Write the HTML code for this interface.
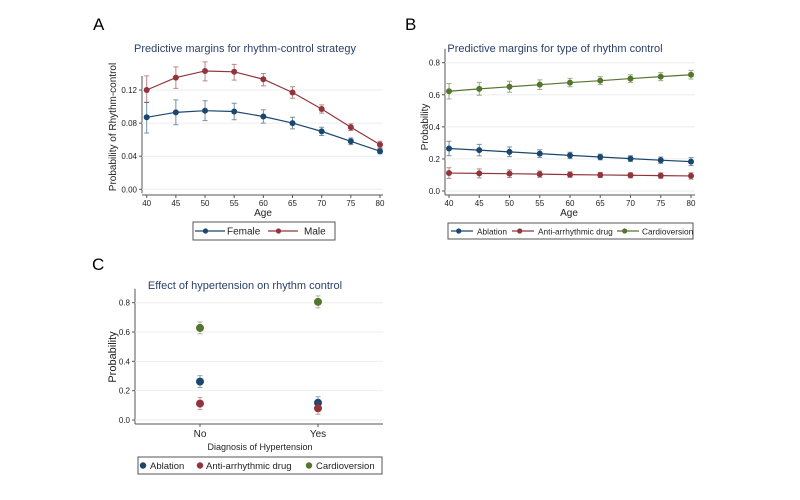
<!DOCTYPE html>
<html><head><meta charset="utf-8"><style>
body{margin:0;background:#fff;}
svg{display:block;font-family:"Liberation Sans",sans-serif;}
</style></head><body>
<svg id="s" width="800" height="500" viewBox="0 0 800 500">
<text x="93" y="30" font-size="17" fill="#000">A</text>
<text x="405" y="30" font-size="17" fill="#000">B</text>
<text x="92" y="270" font-size="17" fill="#000">C</text>
</svg>
<script>
const ages=[40,45,50,55,60,65,70,75,80];
const femaleVals=[0.087,0.093,0.095,0.094,0.088,0.080,0.070,0.058,0.046];
const femaleLo=[0.068,0.078,0.083,0.084,0.080,0.073,0.065,0.054,0.043];
const femaleHi=[0.105,0.108,0.107,0.104,0.096,0.087,0.075,0.062,0.049];
const maleVals=[0.120,0.135,0.143,0.142,0.133,0.117,0.097,0.075,0.054];
const maleLo=[0.105,0.122,0.131,0.132,0.125,0.110,0.092,0.071,0.050];
const maleHi=[0.137,0.148,0.154,0.151,0.140,0.124,0.102,0.079,0.058];
const aTicks=[0,0.04,0.08,0.12];
const aTickLabels=["0.00","0.04","0.08","0.12"];
const cardioVals=[0.622,0.637,0.650,0.663,0.676,0.688,0.701,0.713,0.725];
const cardioErr=[0.048,0.040,0.034,0.030,0.026,0.025,0.024,0.025,0.027];
const ablVals=[0.265,0.255,0.244,0.233,0.222,0.212,0.202,0.192,0.183];
const ablErr=[0.045,0.036,0.030,0.024,0.020,0.018,0.018,0.020,0.025];
const aadVals=[0.112,0.110,0.108,0.105,0.102,0.100,0.098,0.096,0.094];
const aadErr=[0.033,0.028,0.024,0.020,0.017,0.016,0.016,0.017,0.020];
const bTicks=[0,0.2,0.4,0.6,0.8];
const bTickLabels=["0.0","0.2","0.4","0.6","0.8"];
const htnCats=["No","Yes"];
const htnAbl=[0.262,0.118];
const htnAad=[0.112,0.080];
const htnCardio=[0.628,0.806];
const BLUE="#1a476f",RED="#90353b",GREEN="#55752f",NAVY="#2a3f6a";
const S=document.getElementById('s');
function el(tag,attrs,parent){const e=document.createElementNS('http://www.w3.org/2000/svg',tag);for(const k in attrs)e.setAttribute(k,attrs[k]);(parent||S).appendChild(e);return e;}
function txt(x,y,s,size,attrs){const t=el('text',Object.assign({x:x,y:y,'font-size':size,fill:'#222'},attrs||{}));t.textContent=s;return t;}
function lin(d0,d1,r0,r1){return v=>r0+(v-d0)/(d1-d0)*(r1-r0);}

function axesY(g,ys,ticks,labels,x0,x1,lab){
  const ax=el('line',{x1:x0,x2:x0,y1:ys(ticks[ticks.length-1])-14,y2:ys(ticks[0])+4,stroke:'#555'},g);
  
  ticks.forEach((t,i)=>{
    const gl=el('line',{x1:x0,x2:x1,y1:ys(t),y2:ys(t),stroke:'#eee'},g);
    
    el('line',{x1:x0-3,x2:x0,y1:ys(t),y2:ys(t),stroke:'#555'},g);
    const tl=txt(x0-5,ys(t)+3,labels[i],8,{'text-anchor':'end'});
    
  });
}
function series(g,xs,ys,xv,vals,lo,hi,color,name){
  const pts=xv.map((x,i)=>xs(x)+','+ys(vals[i])).join(' ');
  const pl=el('polyline',{points:pts,fill:'none',stroke:color,'stroke-width':1.2},g);
  
  xv.forEach((x,i)=>{
    const X=xs(x);
    const eb=el('path',{d:`M${X},${ys(lo[i])}V${ys(hi[i])}M${X-2.5},${ys(lo[i])}H${X+2.5}M${X-2.5},${ys(hi[i])}H${X+2.5}`,stroke:color,'stroke-opacity':0.6,fill:'none'},g);
    
    const c=el('circle',{cx:X,cy:ys(vals[i]),r:3,fill:color},g);
    
  });
}
function legend(g,x0,y0,x1,y1,items,lineStyle,lab,len,fs){
  const r=el('rect',{x:x0,y:y0,width:x1-x0,height:y1-y0,fill:'#fff',stroke:'#555'},g);
  
  items.forEach(it=>{
    const cy=(y0+y1)/2;
    const eg=el('g',{},g);
    
    
    if(lineStyle){el('line',{x1:it.x,x2:it.x+len,y1:cy,y2:cy,stroke:it.c,'stroke-width':1.2},eg);el('circle',{cx:it.x+len*0.35,cy:cy,r:2.6,fill:it.c},eg);
      const t=txt(it.t,cy+3.3,it.n,fs,{fill:'#222'});eg.appendChild(t);}
    else{el('circle',{cx:it.x,cy:cy,r:3.2,fill:it.c},eg);const t=txt(it.t,cy+3.3,it.n,fs,{fill:'#222'});eg.appendChild(t);}
  });
}

// Panel A
(function(){
  const g=el('g',{});
  const xs=lin(40,80,146.7,380),ys=lin(0,0.12,189.3,90);
  const t=txt(245,52,'Predictive margins for rhythm-control strategy',11,{'text-anchor':'middle',fill:NAVY});
  
  axesY(g,ys,aTicks,aTickLabels,142,383,'panel-a');
  const xa=el('line',{x1:142,x2:383,y1:195,y2:195,stroke:'#555'},g);
  
  ages.forEach(a=>{el('line',{x1:xs(a),x2:xs(a),y1:195,y2:198,stroke:'#555'},g);
    const tl=txt(xs(a),206,String(a),8,{'text-anchor':'middle'});});
  const xl=txt(263,216,'Age',10,{'text-anchor':'middle'});
  const yl=txt(0,0,'Probability of Rhythm-control',10,{'text-anchor':'middle',transform:'translate(116,127) rotate(-90)'});
  
  series(g,xs,ys,ages,maleVals,maleLo,maleHi,RED,'male');
  series(g,xs,ys,ages,femaleVals,femaleLo,femaleHi,BLUE,'female');
  legend(g,193,222,335,240,[{x:195,t:227,c:BLUE,n:'Female'},{x:268,t:304,c:RED,n:'Male'}],true,'panel-a',30,10);
})();

// Panel B
(function(){
  const g=el('g',{});
  const xs=lin(40,80,449,691),ys=lin(0,0.8,191,62.7);
  const t=txt(555,52,'Predictive margins for type of rhythm control',11,{'text-anchor':'middle',fill:NAVY});
  
  axesY(g,ys,bTicks,bTickLabels,445,695,'panel-b');
  const xa=el('line',{x1:445,x2:695,y1:195,y2:195,stroke:'#555'},g);
  
  ages.forEach(a=>{el('line',{x1:xs(a),x2:xs(a),y1:195,y2:198,stroke:'#555'},g);
    const tl=txt(xs(a),206,String(a),8,{'text-anchor':'middle'});});
  const xl=txt(569,216,'Age',10,{'text-anchor':'middle'});
  const yl=txt(0,0,'Probability',10,{'text-anchor':'middle',transform:'translate(428,127) rotate(-90)'});
  
  const lo=(v,e)=>v.map((x,i)=>x-e[i]),hi=(v,e)=>v.map((x,i)=>x+e[i]);
  series(g,xs,ys,ages,cardioVals,lo(cardioVals,cardioErr),hi(cardioVals,cardioErr),GREEN,'cardioversion');
  series(g,xs,ys,ages,ablVals,lo(ablVals,ablErr),hi(ablVals,ablErr),BLUE,'ablation');
  series(g,xs,ys,ages,aadVals,lo(aadVals,aadErr),hi(aadVals,aadErr),RED,'anti-arrhythmic-drug');
  legend(g,448,223,693,239,[{x:451,t:477,c:BLUE,n:'Ablation'},{x:512,t:538,c:RED,n:'Anti-arrhythmic drug'},{x:617,t:642,c:GREEN,n:'Cardioversion'}],true,'panel-b',22,8.3);
})();

// Panel C
(function(){
  const g=el('g',{});
  const xs=i=>200+i*118,ys=lin(0,0.8,420,302.7);
  const t=txt(245,289,'Effect of hypertension on rhythm control',11,{'text-anchor':'middle',fill:NAVY});
  
  axesY(g,ys,bTicks,bTickLabels,135,383,'panel-c');
  const xa=el('line',{x1:135,x2:383,y1:424,y2:424,stroke:'#555'},g);
  
  htnCats.forEach((c,i)=>{el('line',{x1:xs(i),x2:xs(i),y1:424,y2:427,stroke:'#555'},g);
    const tl=txt(xs(i),437,c,10,{'text-anchor':'middle'});});
  const xl=txt(260,450,'Diagnosis of Hypertension',9,{'text-anchor':'middle'});
  const yl=txt(0,0,'Probability',11,{'text-anchor':'middle',transform:'translate(116,357) rotate(-90)'});
  
  [[htnCardio,GREEN,'cardioversion'],[htnAbl,BLUE,'ablation'],[htnAad,RED,'anti-arrhythmic-drug']].forEach(s=>{
    s[0].forEach((v,i)=>{
      const eb=el('path',{d:`M${xs(i)},${ys(v)-6}V${ys(v)+6}M${xs(i)-2.5},${ys(v)-6}H${xs(i)+2.5}M${xs(i)-2.5},${ys(v)+6}H${xs(i)+2.5}`,stroke:s[1],'stroke-opacity':0.5,fill:'none'},g);
      
      const c=el('circle',{cx:xs(i),cy:ys(v),r:4,fill:s[1]},g);
      
    });
  });
  legend(g,138,457,382,474,[{x:143,t:150,c:BLUE,n:'Ablation'},{x:200,t:206,c:RED,n:'Anti-arrhythmic drug'},{x:309,t:316,c:GREEN,n:'Cardioversion'}],false,'panel-c',0,9.5);
})();
</script>
</body></html>
